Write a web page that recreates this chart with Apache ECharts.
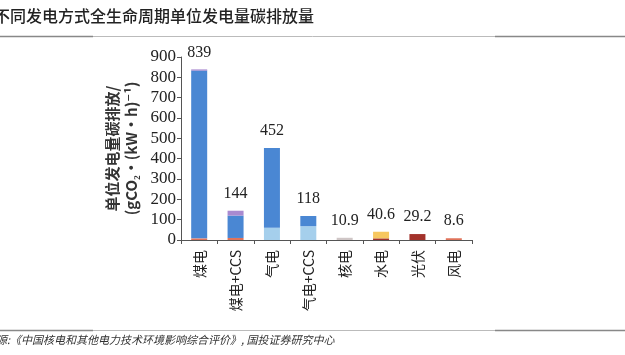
<!DOCTYPE html>
<html><head><meta charset="utf-8">
<script src="https://cdn.jsdelivr.net/npm/echarts@6/dist/echarts.min.js"></script>
<style>html,body{margin:0;padding:0;background:#fff}#c{width:625px;height:355px}</style>
</head><body><div id="c"></div>
<script>
const categories = ['煤电','煤电+CCS','气电','气电+CCS','核电','水电','光伏','风电'];
const totals = [839, 144, 452, 118, 10.9, 40.6, 29.2, 8.6];
const segRed = [8, 10, 0, 0, 0, 0, 0, 8.6];
const segDarkRed = [0, 0, 0, 0, 0, 8, 29.2, 0];
const segLightBlue = [0, 0, 60, 68, 0, 0, 0, 0];
const segBlue = [825, 110, 392, 50, 0, 0, 0, 0];
const segPurple = [6, 24, 0, 0, 0, 0, 0, 0];
const segGray = [0, 0, 0, 0, 10.9, 0, 0, 0];
const segYellow = [0, 0, 0, 0, 0, 32.6, 0, 0];
const yTicks = [0, 100, 200, 300, 400, 500, 600, 700, 800, 900];

const chart = echarts.init(document.getElementById('c'));
const serif = '"Liberation Serif","DejaVu Serif",serif';
function seg(name, data, color) {
  return {name, type:'bar', stack:'t', data, barWidth:16,
    itemStyle:{color}, emphasis:{disabled:true}};
}
chart.setOption({
  animation:false,
  grid:{left:181, right:153, top:57, bottom:115},
  xAxis:{type:'category', data:categories,
    axisLine:{lineStyle:{color:'#555', width:1}},
    axisTick:{show:true, length:4, lineStyle:{color:'#555'}},
    axisLabel:{rotate:90, margin:10, fontSize:14, color:'#222', fontFamily:'"Noto Sans CJK SC",'+serif}},
  yAxis:{type:'value', min:yTicks[0], max:yTicks[yTicks.length-1], interval:100,
    name:'单位发电量碳排放/\n(gCO₂·(kW·h)⁻¹)', nameLocation:'middle', nameGap:40, nameRotate:90,
    nameTextStyle:{fontSize:15, fontWeight:'bold', color:'#333', fontFamily:'"Noto Sans CJK SC",'+serif, lineHeight:19},
    axisLine:{show:true, lineStyle:{color:'#555'}},
    axisTick:{show:true, length:4, lineStyle:{color:'#555'}},
    splitLine:{show:false},
    axisLabel:{fontSize:17, color:'#222', fontFamily:serif, margin:5}},
  series:[
    seg('a', segRed, '#e0735a'),
    seg('b', segDarkRed, '#a3322b'),
    seg('c', segLightBlue, '#a5cfec'),
    seg('d', segBlue, '#4a87d3'),
    seg('e', segPurple, '#a98ad0'),
    seg('f', segGray, '#cfc6c6'),
    seg('g', segYellow, '#f7c75f'),
    {name:'total', type:'bar', stack:'t', data:totals.map(()=>0), barWidth:16,
      label:{show:true, position:'top', distance:9, fontSize:16, color:'#222', fontFamily:serif,
        formatter:p=>String(totals[p.dataIndex])}}
  ],
  graphic:[
    {type:'text', left:-6, top:8, style:{text:'不同发电方式全生命周期单位发电量碳排放量', font:'500 16px "Noto Sans CJK SC"', fill:'#222'}},
    {type:'line', shape:{x1:0,y1:36.5,x2:625,y2:36.5}, style:{stroke:'#bbb', lineWidth:1}},
    {type:'line', shape:{x1:0,y1:36.5,x2:93,y2:36.5}, style:{stroke:'#888', lineWidth:1.5}},
    {type:'line', shape:{x1:495,y1:36.5,x2:625,y2:36.5}, style:{stroke:'#888', lineWidth:1.5}},
    {type:'line', shape:{x1:0,y1:330.5,x2:625,y2:330.5}, style:{stroke:'#bbb', lineWidth:1}},
    {type:'line', shape:{x1:0,y1:330.5,x2:93,y2:330.5}, style:{stroke:'#888', lineWidth:1.5}},
    {type:'line', shape:{x1:495,y1:330.5,x2:625,y2:330.5}, style:{stroke:'#888', lineWidth:1.5}},
    {type:'text', left:-4, top:334, style:{text:'源:《中国核电和其他电力技术环境影响综合评价》, 国投证券研究中心', font:'italic 11px "Noto Sans CJK SC"', fill:'#333'}}
  ]
});
</script></body></html>
